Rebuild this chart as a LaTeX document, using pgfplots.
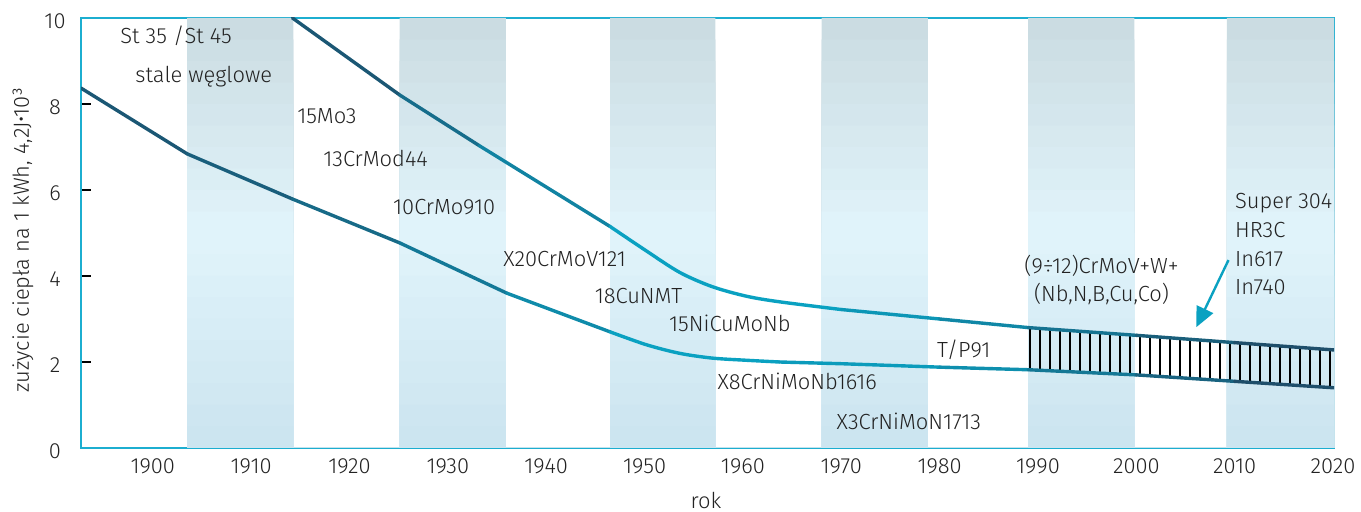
\documentclass[11pt,border=0pt]{standalone}
\usepackage{fontspec}
\setmainfont{Fira Sans Light}
\usepackage{pgfplots}
\pgfplotsset{compat=1.18}
\usetikzlibrary{patterns.meta,arrows.meta}
\definecolor{frame}{HTML}{1CAED0}
\definecolor{dk}{HTML}{1B5774}
\definecolor{dkb}{HTML}{1E4E6A}
\definecolor{cy}{HTML}{0AA1C1}
\definecolor{bandtop}{HTML}{CADBE1}
\definecolor{bandmid}{HTML}{E1F4FB}
\definecolor{bandbot}{HTML}{CBE4EF}
\definecolor{txt}{HTML}{222222}
\begin{document}
\begin{tikzpicture}
\begin{axis}[
  at={(0,0)}, anchor=south west,
  scale only axis, width=626.5pt, height=215pt,
  xmin=1892.7, xmax=2020.1, ymin=0, ymax=10,
  axis line style={draw=frame, line width=0.75pt},
  xtick={1900,1910,...,2020},
  ytick={2,4,6,8},
  extra y ticks={0,10},
  extra y tick style={major tick length=0pt},
  xtick pos=bottom, ytick pos=left,
  x tick style={draw=none},
  y tick style={black, line width=1pt},
  major tick length=5pt, tick align=inside,
  /pgf/number format/1000 sep={},
  /pgf/number format/assume math mode=true,
  tick label style={text=txt, font=\normalsize},
  yticklabel style={anchor=center, xshift=-13pt, yshift=-1.5pt},
  xticklabel style={yshift=-1.5pt},
  xlabel={rok},
  xlabel style={at={(axis description cs:0.4988,-0.123)}, anchor=center, text=txt, inner sep=0pt},
  ylabel={zużycie ciepła na 1 kWh, 4,2J•10³},
  ylabel style={at={(axis description cs:-0.0463,0.484)}, anchor=center, text=txt, inner sep=0pt},
  every axis plot/.append style={line cap=round, line join=round},
  band/.style={const plot mark left, draw=none, fill=#1},
]
% background bands (vertical gradient built from strips)
\addplot[band={bandtop!95!bandmid}] coordinates {(1903.5,10)(1914.3,0)(1925.1,10)(1935.9,0)(1946.5,10)(1957.2,0)(1968.0,10)(1978.8,0)(1989.0,10)(1999.8,0)(2009.2,10)(2020.1,10)} \closedcycle;
\addplot[band={bandtop!85!bandmid}] coordinates {(1903.5,9.5)(1914.3,0)(1925.1,9.5)(1935.9,0)(1946.5,9.5)(1957.2,0)(1968.0,9.5)(1978.8,0)(1989.0,9.5)(1999.8,0)(2009.2,9.5)(2020.1,9.5)} \closedcycle;
\addplot[band={bandtop!75!bandmid}] coordinates {(1903.5,9)(1914.3,0)(1925.1,9)(1935.9,0)(1946.5,9)(1957.2,0)(1968.0,9)(1978.8,0)(1989.0,9)(1999.8,0)(2009.2,9)(2020.1,9)} \closedcycle;
\addplot[band={bandtop!65!bandmid}] coordinates {(1903.5,8.5)(1914.3,0)(1925.1,8.5)(1935.9,0)(1946.5,8.5)(1957.2,0)(1968.0,8.5)(1978.8,0)(1989.0,8.5)(1999.8,0)(2009.2,8.5)(2020.1,8.5)} \closedcycle;
\addplot[band={bandtop!55!bandmid}] coordinates {(1903.5,8)(1914.3,0)(1925.1,8)(1935.9,0)(1946.5,8)(1957.2,0)(1968.0,8)(1978.8,0)(1989.0,8)(1999.8,0)(2009.2,8)(2020.1,8)} \closedcycle;
\addplot[band={bandtop!45!bandmid}] coordinates {(1903.5,7.5)(1914.3,0)(1925.1,7.5)(1935.9,0)(1946.5,7.5)(1957.2,0)(1968.0,7.5)(1978.8,0)(1989.0,7.5)(1999.8,0)(2009.2,7.5)(2020.1,7.5)} \closedcycle;
\addplot[band={bandtop!35!bandmid}] coordinates {(1903.5,7)(1914.3,0)(1925.1,7)(1935.9,0)(1946.5,7)(1957.2,0)(1968.0,7)(1978.8,0)(1989.0,7)(1999.8,0)(2009.2,7)(2020.1,7)} \closedcycle;
\addplot[band={bandtop!25!bandmid}] coordinates {(1903.5,6.5)(1914.3,0)(1925.1,6.5)(1935.9,0)(1946.5,6.5)(1957.2,0)(1968.0,6.5)(1978.8,0)(1989.0,6.5)(1999.8,0)(2009.2,6.5)(2020.1,6.5)} \closedcycle;
\addplot[band={bandtop!15!bandmid}] coordinates {(1903.5,6)(1914.3,0)(1925.1,6)(1935.9,0)(1946.5,6)(1957.2,0)(1968.0,6)(1978.8,0)(1989.0,6)(1999.8,0)(2009.2,6)(2020.1,6)} \closedcycle;
\addplot[band={bandtop!5!bandmid}] coordinates {(1903.5,5.5)(1914.3,0)(1925.1,5.5)(1935.9,0)(1946.5,5.5)(1957.2,0)(1968.0,5.5)(1978.8,0)(1989.0,5.5)(1999.8,0)(2009.2,5.5)(2020.1,5.5)} \closedcycle;
\addplot[band={bandbot!5!bandmid}] coordinates {(1903.5,5)(1914.3,0)(1925.1,5)(1935.9,0)(1946.5,5)(1957.2,0)(1968.0,5)(1978.8,0)(1989.0,5)(1999.8,0)(2009.2,5)(2020.1,5)} \closedcycle;
\addplot[band={bandbot!15!bandmid}] coordinates {(1903.5,4.5)(1914.3,0)(1925.1,4.5)(1935.9,0)(1946.5,4.5)(1957.2,0)(1968.0,4.5)(1978.8,0)(1989.0,4.5)(1999.8,0)(2009.2,4.5)(2020.1,4.5)} \closedcycle;
\addplot[band={bandbot!25!bandmid}] coordinates {(1903.5,4)(1914.3,0)(1925.1,4)(1935.9,0)(1946.5,4)(1957.2,0)(1968.0,4)(1978.8,0)(1989.0,4)(1999.8,0)(2009.2,4)(2020.1,4)} \closedcycle;
\addplot[band={bandbot!35!bandmid}] coordinates {(1903.5,3.5)(1914.3,0)(1925.1,3.5)(1935.9,0)(1946.5,3.5)(1957.2,0)(1968.0,3.5)(1978.8,0)(1989.0,3.5)(1999.8,0)(2009.2,3.5)(2020.1,3.5)} \closedcycle;
\addplot[band={bandbot!45!bandmid}] coordinates {(1903.5,3)(1914.3,0)(1925.1,3)(1935.9,0)(1946.5,3)(1957.2,0)(1968.0,3)(1978.8,0)(1989.0,3)(1999.8,0)(2009.2,3)(2020.1,3)} \closedcycle;
\addplot[band={bandbot!55!bandmid}] coordinates {(1903.5,2.5)(1914.3,0)(1925.1,2.5)(1935.9,0)(1946.5,2.5)(1957.2,0)(1968.0,2.5)(1978.8,0)(1989.0,2.5)(1999.8,0)(2009.2,2.5)(2020.1,2.5)} \closedcycle;
\addplot[band={bandbot!65!bandmid}] coordinates {(1903.5,2)(1914.3,0)(1925.1,2)(1935.9,0)(1946.5,2)(1957.2,0)(1968.0,2)(1978.8,0)(1989.0,2)(1999.8,0)(2009.2,2)(2020.1,2)} \closedcycle;
\addplot[band={bandbot!75!bandmid}] coordinates {(1903.5,1.5)(1914.3,0)(1925.1,1.5)(1935.9,0)(1946.5,1.5)(1957.2,0)(1968.0,1.5)(1978.8,0)(1989.0,1.5)(1999.8,0)(2009.2,1.5)(2020.1,1.5)} \closedcycle;
\addplot[band={bandbot!85!bandmid}] coordinates {(1903.5,1)(1914.3,0)(1925.1,1)(1935.9,0)(1946.5,1)(1957.2,0)(1968.0,1)(1978.8,0)(1989.0,1)(1999.8,0)(2009.2,1)(2020.1,1)} \closedcycle;
\addplot[band={bandbot!95!bandmid}] coordinates {(1903.5,0.5)(1914.3,0)(1925.1,0.5)(1935.9,0)(1946.5,0.5)(1957.2,0)(1968.0,0.5)(1978.8,0)(1989.0,0.5)(1999.8,0)(2009.2,0.5)(2020.1,0.5)} \closedcycle;
% hatched region between the curves, 1989-2020
\addplot[draw=none, pattern={Lines[angle=90,distance=5pt,line width=0.75pt]}, pattern color=black] coordinates {(1989,2.80)(2000,2.62)(2010,2.45)(2020.1,2.28)(2020.1,1.40)(2010,1.55)(2000,1.70)(1989,1.82)} -- cycle;
% lower curve
\addplot[dk, line width=1.7pt] coordinates {(1892.7,8.37)(1903.5,6.84)};
\addplot[dk!90!cy, line width=1.7pt] coordinates {(1903.5,6.84)(1914.2,5.79)};
\addplot[dk!75!cy, line width=1.7pt] coordinates {(1914.2,5.79)(1925.1,4.77)};
\addplot[dk!55!cy, line width=1.7pt] coordinates {(1925.1,4.77)(1936.0,3.60)};
\addplot[dk!30!cy, line width=1.7pt] coordinates {(1936.0,3.60)(1946.5,2.70)};
\addplot[cy, line width=1.7pt, smooth, tension=0.5] coordinates {(1946.5,2.70)(1950.2,2.40)(1953.6,2.20)(1956.9,2.09)(1960.35,2.04)(1963.7,2.00)};
\addplot[cy!92!dk, line width=1.7pt] coordinates {(1963.7,2.00)(1970,1.96)(1980,1.88)};
\addplot[cy!75!dk, line width=1.7pt] coordinates {(1980,1.88)(1989,1.82)};
\addplot[cy!50!dkb, line width=1.7pt] coordinates {(1989,1.82)(2000,1.70)};
\addplot[cy!25!dkb, line width=1.7pt] coordinates {(2000,1.70)(2010,1.55)};
\addplot[dkb, line width=1.7pt] coordinates {(2010,1.55)(2020.1,1.40)};
% upper curve
\addplot[dk, line width=1.7pt] coordinates {(1914.2,10.0)(1925.1,8.21)};
\addplot[dk!70!cy, line width=1.7pt] coordinates {(1925.1,8.21)(1933.2,7.03)};
\addplot[dk!40!cy, line width=1.7pt] coordinates {(1933.2,7.03)(1946.5,5.15)};
\addplot[cy, line width=1.7pt, smooth, tension=0.5] coordinates {(1946.5,5.15)(1950.2,4.58)(1953.6,4.08)(1956.9,3.75)(1960.35,3.53)(1963.7,3.40)(1970,3.22)};
\addplot[cy!85!dk, line width=1.7pt] coordinates {(1970,3.22)(1980,3.00)};
\addplot[cy!65!dk, line width=1.7pt] coordinates {(1980,3.00)(1989,2.80)};
\addplot[cy!45!dkb, line width=1.7pt] coordinates {(1989,2.80)(2000,2.62)};
\addplot[cy!20!dkb, line width=1.7pt] coordinates {(2000,2.62)(2010,2.45)};
\addplot[dkb, line width=1.7pt] coordinates {(2010,2.45)(2020.1,2.28)};
% labels
\begin{scope}[every node/.style={text=txt, inner sep=0pt, font=\normalsize}]
\node[anchor=base west] at (axis cs:1896.66,9.41) {St 35 /St 45};
\node[anchor=base west] at (axis cs:1898.2,8.50) {stale węglowe};
\node[anchor=base west] at (axis cs:1914.65,7.55) {15Mo3};
\node[anchor=base west] at (axis cs:1917.3,6.54) {13CrMod44};
\node[anchor=base west] at (axis cs:1924.4,5.43) {10CrMo910};
\node[anchor=base west] at (axis cs:1935.6,4.23) {X20CrMoV121};
\node[anchor=base west] at (axis cs:1944.9,3.35) {18CuNMT};
\node[anchor=base west] at (axis cs:1952.46,2.71) {15NiCuMoNb};
\node[anchor=base west] at (axis cs:1957.4,1.35) {X8CrNiMoNb1616};
\node[anchor=base west] at (axis cs:1969.5,0.42) {X3CrNiMoN1713};
\node[anchor=base west] at (axis cs:1979.7,2.10) {T/P91};
\node[anchor=base] at (axis cs:1996.46,4.06) {(9÷12)CrMoV+W+};
\node[anchor=base] at (axis cs:1996.46,3.40) {(Nb,N,B,Cu,Co)};
\node[anchor=base west] at (axis cs:2010.0,5.56) {Super 304};
\node[anchor=base west] at (axis cs:2010.0,4.89) {HR3C};
\node[anchor=base west] at (axis cs:2010.0,4.22) {In617};
\node[anchor=base west] at (axis cs:2010.0,3.56) {In740};
\end{scope}
\draw[cy, line width=1.2pt, -{Triangle[length=10pt,width=9pt]}] (axis cs:2009.37,4.37) -- (axis cs:2006.1,2.81);
\end{axis}
\pgfresetboundingbox
\path[use as bounding box] (-40.5pt,-32pt) rectangle (640pt,224pt);
\end{tikzpicture}
\end{document}
